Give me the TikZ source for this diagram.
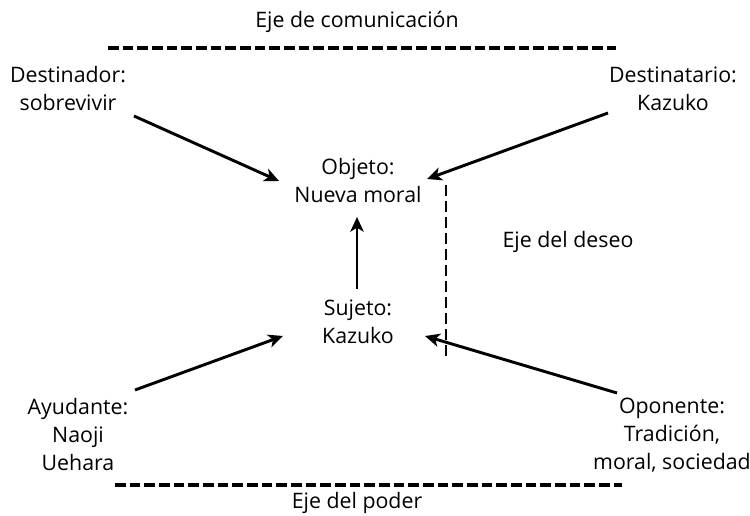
\documentclass[tikz,border=0pt]{standalone}
\usepackage{fontspec}
\setmainfont{Open Sans}
\usetikzlibrary{arrows.meta}
\begin{document}
\begin{tikzpicture}[x=0.75pt,y=-0.75pt,
  lbl/.style={align=center,inner sep=0pt,font=\fontsize{16}{21}\selectfont},
  conn/.style={line width=2.2pt,-{Stealth[length=11pt,width=10pt,inset=3pt]}},
  axis/.style={line width=2.4pt,dash pattern=on 8pt off 3pt},
  vaxis/.style={line width=2pt,dash pattern=on 8pt off 4pt}]
\useasboundingbox (0,0) rectangle (750,516);
\node[lbl] (ejecom) at (357,22) {Eje de comunicación};
\node[lbl] (dor) at (68,89) {Destinador:\\sobrevivir};
\node[lbl] (dario) at (673,89) {Destinatario:\\Kazuko};
\node[lbl] (obj) at (358,181) {Objeto:\\Nueva moral};
\node[lbl] (suj) at (358,322) {Sujeto:\\Kazuko};
\node[lbl] (ejedes) at (568,242) {Eje del deseo};
\node[lbl] (ayu) at (78,435) {Ayudante:\\Naoji\\Uehara};
\node[lbl] (opo) at (672,435) {Oponente:\\Tradición,\\moral, sociedad};
\node[lbl] (ejepod) at (357,503) {Eje del poder};
\coordinate (dorS) at (134,116);
\coordinate (objL) at (279,181);
\coordinate (darS) at (608,113);
\coordinate (objR) at (427,179);
\coordinate (sujT) at (357,289);
\coordinate (objB) at (357,217);
\coordinate (ayuT) at (135,390);
\coordinate (sujL) at (283,336);
\coordinate (opoT) at (617,393);
\coordinate (sujR) at (425,336);
\coordinate (topA) at (108,48);
\coordinate (topB) at (616,48);
\coordinate (botA) at (115,485);
\coordinate (botB) at (622,485);
\coordinate (desA) at (446,185);
\coordinate (desB) at (446,356);
\draw[conn] (dorS) -- (objL);
\draw[conn] (darS) -- (objR);
\draw[conn] (sujT) -- (objB);
\draw[conn] (ayuT) -- (sujL);
\draw[conn] (opoT) -- (sujR);
\draw[axis] (topA) -- (topB);
\draw[axis] (botA) -- (botB);
\draw[vaxis] (desA) -- (desB);
\end{tikzpicture}
\end{document}
